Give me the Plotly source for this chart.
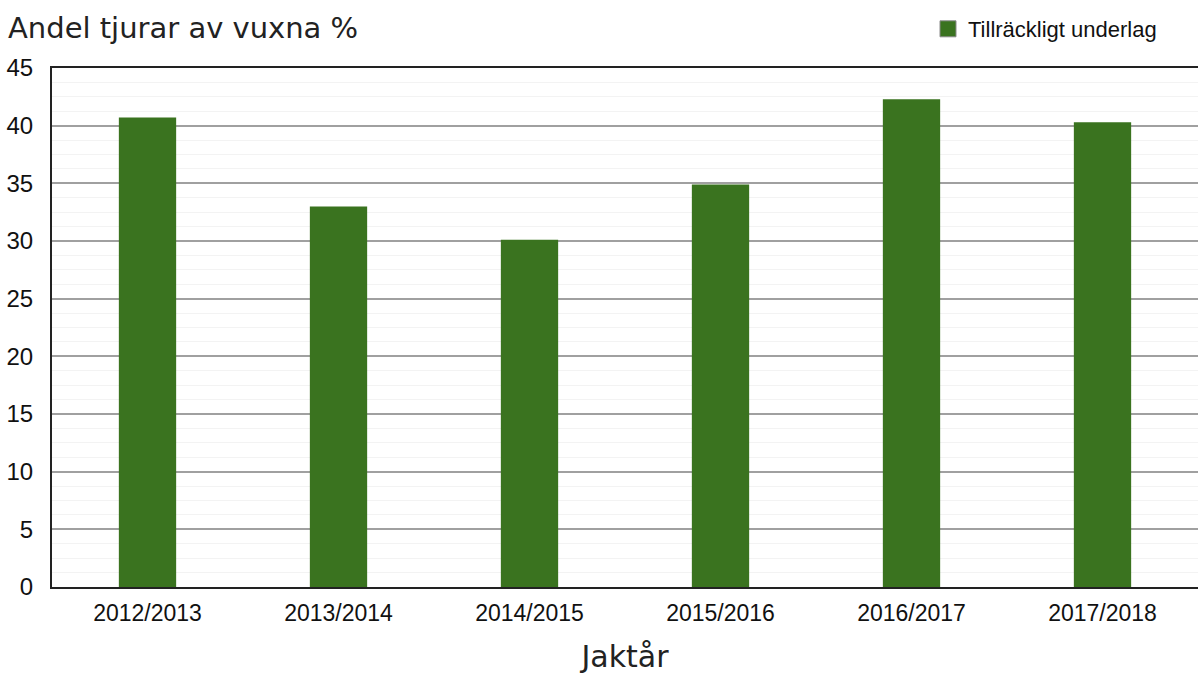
import plotly.graph_objects as go

# Data
seasons = ["2012/2013", "2013/2014", "2014/2015", "2015/2016", "2016/2017", "2017/2018"]
bull_share = [40.7, 33.0, 30.1, 34.9, 42.3, 40.3]
series_name = "Tillräckligt underlag"
y_ticks = [0, 5, 10, 15, 20, 25, 30, 35, 40, 45]

bar_color = "#3a731f"
narrow = "Liberation Sans Narrow, Arial Narrow, Liberation Sans, sans-serif"

fig = go.Figure()

fig.add_trace(go.Bar(
    x=seasons,
    y=bull_share,
    width=0.3,
    marker=dict(color=bar_color, line=dict(width=0)),
    showlegend=False,
    hoverinfo="x+y",
))

# legend-only entry so the swatch can be drawn larger, like the original
fig.add_trace(go.Scatter(
    x=[None], y=[None],
    mode="markers",
    name=series_name,
    marker=dict(symbol="square", size=23, color=bar_color,
                line=dict(color="#8a8a8a", width=1)),
))

fig.update_layout(
    width=1198,
    height=674,
    margin=dict(l=52, r=0, t=68, b=87, autoexpand=False),
    paper_bgcolor="white",
    plot_bgcolor="white",
    title=dict(
        text="Andel tjurar av vuxna %",
        xref="container", yref="container",
        x=8 / 1198, xanchor="left",
        y=1 - 28 / 674, yanchor="middle",
        font=dict(family="DejaVu Sans", size=29, color="#222"),
    ),
    legend=dict(
        xref="container", yref="container",
        x=928 / 1198, xanchor="left",
        y=1 - 29 / 674, yanchor="middle",
        font=dict(family=narrow, size=22, color="#111"),
        bgcolor="rgba(0,0,0,0)",
        itemwidth=30,
    ),
    xaxis=dict(
        type="category",
        range=[-0.5, 5.5],
        automargin=False,
        showline=True, linecolor="#222", linewidth=2, mirror=True,
        showgrid=False,
        ticks="",
        ticklabelstandoff=4,
        tickfont=dict(family=narrow, size=23, color="#111"),
        title=dict(text="Jaktår", font=dict(family="DejaVu Sans", size=30, color="#222"),
                   standoff=30),
    ),
    yaxis=dict(
        range=[0, 45],
        tickvals=y_ticks,
        automargin=False,
        showline=True, linecolor="#222", linewidth=2, mirror=True,
        showgrid=True, gridcolor="#a0a0a0", gridwidth=2,
        zeroline=False,
        ticks="",
        ticklabelstandoff=12,
        tickfont=dict(family=narrow, size=24, color="#111"),
        minor=dict(dtick=1.25, showgrid=True, gridcolor="#f3f3f3", gridwidth=1),
    ),
)

# drop the browser's default body margin so the figure sits at the page corner
fig.write_html("out.html", config={"displayModeBar": False},
               post_script="document.body.style.margin='0';")
